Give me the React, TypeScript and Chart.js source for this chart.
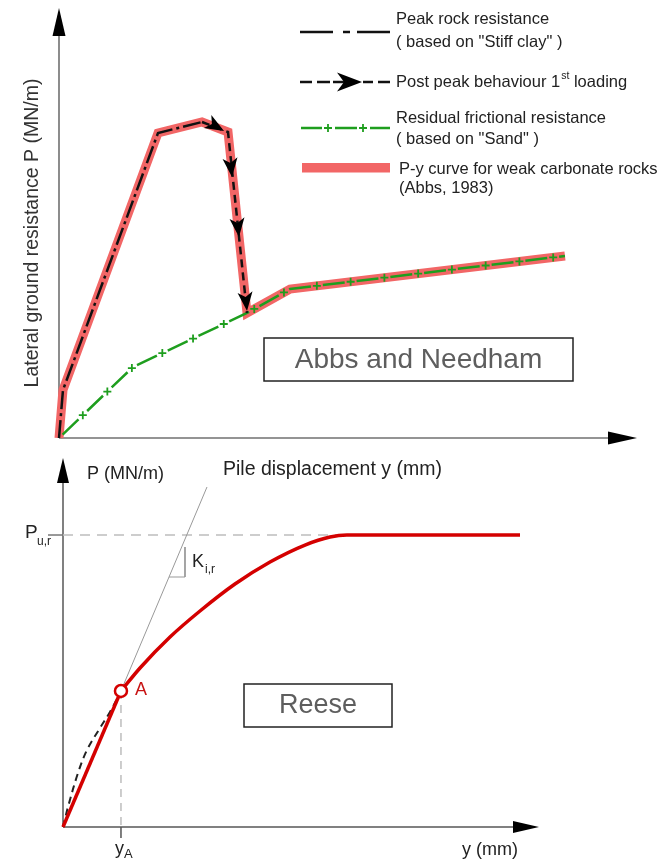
import React, { useEffect, useRef } from "react";
import { Chart, registerables } from "chart.js";

Chart.register(...registerables);

// ---------------- Top chart: Abbs and Needham (schematic units 0..100) ----------------
const pyCurveX = [0, 0.69, 17.13, 24.74, 29.24, 32.53, 39.97, 87.54];
const pyCurveY = [0, 11.16, 70.93, 73.49, 71.16, 29.07, 34.65, 42.33];
const peakRockX = [0, 0.69, 17.13, 24.74];
const peakRockY = [0, 11.16, 70.93, 73.49];
const postPeakX = [24.74, 29.24, 32.53];
const postPeakY = [73.49, 71.16, 29.07];
const residualX = [0, 12.8, 32.53, 39.97, 87.54];
const residualY = [0, 16.51, 29.07, 34.65, 42.33];
const postPeakArrowX = [28.55, 29.93, 31.14, 32.53];
const postPeakArrowY = [71.4, 60.7, 46.74, 29.53];
const postPeakArrowAngle = [30, 84, 84, 84];

const topLegendLabels = [
  "Peak rock resistance",
  '( based on "Stiff clay" )',
  "Post peak behaviour 1",
  "Residual frictional resistance",
  '( based on "Sand" )',
  "P-y curve for weak carbonate rocks",
  "(Abbs, 1983)",
];
const topYAxisTitle = "Lateral ground resistance P (MN/m)";
const topBoxTitle = "Abbs and Needham";

// ---------------- Bottom chart: Reese (schematic units 0..100) ----------------
const reeseLowerX = [0, 12.18];
const reeseLowerY = [0, 36.86];
const reeseUpperX = [12.18, 16.18, 22.48, 28.78, 36.13, 43.49, 50.84, 56.09, 59.66, 96.01];
const reeseUpperY = [36.86, 43.09, 51.49, 58.54, 65.85, 71.82, 76.42, 78.59, 79.13, 79.13];
const initialX = [0, 1.05, 3.15, 5.04, 7.77, 9.87, 12.18];
const initialY = [0, 5.42, 14.63, 20.87, 26.83, 31.17, 36.86];
const tangentX = [12.61, 30.25];
const tangentY = [38.21, 92.14];
const slopeMarkX = [25.63, 25.63, 22.27];
const slopeMarkY = [75.88, 67.75, 67.75];
const puR = 79.13;
const puREndX = 59.66;
const pointAX = 12.18;
const pointAY = 36.86;

const FONT = "'Liberation Sans', Arial, sans-serif";

const pts = (xs: number[], ys: number[]) => xs.map((x, i) => ({ x, y: ys[i] }));

function tri(ctx: any, x: number, y: number, ang: number, len: number, hw: number) {
  ctx.save();
  ctx.translate(x, y);
  ctx.rotate(ang);
  ctx.beginPath();
  ctx.moveTo(0, 0);
  ctx.lineTo(-len, -hw);
  ctx.lineTo(-len, hw);
  ctx.closePath();
  ctx.fill();
  ctx.restore();
}

function barb(ctx: any, x: number, y: number, ang: number, len: number, hw: number, notch: number) {
  ctx.save();
  ctx.translate(x, y);
  ctx.rotate(ang);
  ctx.beginPath();
  ctx.moveTo(0, 0);
  ctx.lineTo(-len, -hw);
  ctx.lineTo(-len + notch, 0);
  ctx.lineTo(-len, hw);
  ctx.closePath();
  ctx.fill();
  ctx.restore();
}

function seg(ctx: any, x1: number, y1: number, x2: number, y2: number) {
  ctx.beginPath();
  ctx.moveTo(x1, y1);
  ctx.lineTo(x2, y2);
  ctx.stroke();
}

function plus(ctx: any, x: number, y: number, s: number) {
  ctx.beginPath();
  ctx.moveTo(x - s, y);
  ctx.lineTo(x + s, y);
  ctx.moveTo(x, y - s);
  ctx.lineTo(x, y + s);
  ctx.stroke();
}

function text(ctx: any, s: string, x: number, y: number, size: number, color: string, align = "left", baseline = "middle") {
  ctx.font = `${size}px ${FONT}`;
  ctx.fillStyle = color;
  ctx.textAlign = align;
  ctx.textBaseline = baseline;
  ctx.fillText(s, x, y);
}

function plusesAlong(ctx: any, p: { x: number; y: number }[], start: number, step: number, size: number) {
  let next = start;
  let acc = 0;
  for (let i = 0; i < p.length - 1; i++) {
    const a = p[i];
    const b = p[i + 1];
    const len = Math.hypot(b.x - a.x, b.y - a.y);
    while (next <= acc + len) {
      const t = (next - acc) / len;
      plus(ctx, a.x + (b.x - a.x) * t, a.y + (b.y - a.y) * t, size);
      next += step;
    }
    acc += len;
  }
}

const topDecor = {
  id: "topDecor",
  beforeDatasetsDraw(chart: any) {
    const { ctx, scales } = chart;
    const x0 = scales.x.getPixelForValue(0);
    const y0 = scales.y.getPixelForValue(0);
    const xe = scales.x.getPixelForValue(100);
    const ye = scales.y.getPixelForValue(100);
    ctx.save();
    ctx.strokeStyle = "#707070";
    ctx.lineWidth = 1.6;
    seg(ctx, x0, y0, x0, ye + 20);
    seg(ctx, x0, y0, xe - 20, y0);
    ctx.fillStyle = "#000";
    tri(ctx, x0, ye, -Math.PI / 2, 28, 6.5);
    tri(ctx, xe, y0, 0, 29, 6.5);
    ctx.restore();
  },
  afterDatasetsDraw(chart: any) {
    const { ctx, scales } = chart;
    ctx.save();
    const meta = chart.getDatasetMeta(1);
    const p = meta.data.map((e: any) => ({ x: e.x, y: e.y }));
    ctx.strokeStyle = "#1e9e1e";
    ctx.lineWidth = 1.8;
    plusesAlong(ctx, p, 33, 34, 4);
    ctx.fillStyle = "#000";
    postPeakArrowX.forEach((vx, i) => {
      const px = scales.x.getPixelForValue(vx);
      const py = scales.y.getPixelForValue(postPeakArrowY[i]);
      barb(ctx, px, py, (postPeakArrowAngle[i] * Math.PI) / 180, 19, 7.5, 5);
    });
    ctx.restore();
  },
  afterDraw(chart: any) {
    const { ctx } = chart;
    ctx.save();
    ctx.save();
    ctx.translate(33, 233);
    ctx.rotate(-Math.PI / 2);
    text(ctx, topYAxisTitle, 0, 0, 19.5, "#333", "center");
    ctx.restore();

    ctx.strokeStyle = "#111";
    ctx.lineWidth = 2.5;
    seg(ctx, 300, 32, 333, 32);
    seg(ctx, 343, 32, 350, 32);
    seg(ctx, 357, 32, 390, 32);

    seg(ctx, 300, 82, 312, 82);
    seg(ctx, 317, 82, 330, 82);
    seg(ctx, 333, 82, 352, 82);
    ctx.fillStyle = "#000";
    barb(ctx, 362, 82, 0, 25, 9.5, 7);
    seg(ctx, 363, 82, 373, 82);
    seg(ctx, 378, 82, 390, 82);

    ctx.strokeStyle = "#1e9e1e";
    ctx.lineWidth = 2.5;
    seg(ctx, 301, 128, 322, 128);
    seg(ctx, 335, 128, 357, 128);
    seg(ctx, 370, 128, 390, 128);
    ctx.lineWidth = 1.8;
    plus(ctx, 328, 128, 4);
    plus(ctx, 363, 128, 4);

    ctx.fillStyle = "#f26666";
    ctx.fillRect(302, 163, 88, 9.5);

    const c = "#222";
    const fs = 16.5;
    text(ctx, topLegendLabels[0], 396, 19, fs, c);
    text(ctx, topLegendLabels[1], 396, 42, fs, c);
    text(ctx, topLegendLabels[2], 396, 82, fs, c);
    ctx.font = `${fs}px ${FONT}`;
    const w1 = ctx.measureText(topLegendLabels[2]).width;
    text(ctx, "st", 396 + w1 + 1, 76, 10.5, c);
    ctx.font = `10.5px ${FONT}`;
    const w2 = ctx.measureText("st").width;
    text(ctx, " loading", 396 + w1 + 1 + w2, 82, fs, c);
    text(ctx, topLegendLabels[3], 396, 118, fs, c);
    text(ctx, topLegendLabels[4], 396, 139, fs, c);
    text(ctx, topLegendLabels[5], 399, 169, fs, c);
    text(ctx, topLegendLabels[6], 399, 188, fs, c);

    ctx.fillStyle = "#fff";
    ctx.fillRect(264, 338, 309, 43);
    ctx.strokeStyle = "#222";
    ctx.lineWidth = 1.5;
    ctx.strokeRect(264, 338, 309, 43);
    text(ctx, topBoxTitle, 418.5, 360, 28, "#5e5e5e", "center");
    ctx.restore();
  },
};

const bottomDecor = {
  id: "bottomDecor",
  beforeDatasetsDraw(chart: any) {
    const { ctx, scales } = chart;
    const x0 = scales.x.getPixelForValue(0);
    const y0 = scales.y.getPixelForValue(0);
    const xe = scales.x.getPixelForValue(100);
    const ye = scales.y.getPixelForValue(100);
    ctx.save();
    ctx.strokeStyle = "#808080";
    ctx.lineWidth = 2;
    seg(ctx, x0, y0, x0, ye + 18);
    seg(ctx, x0, y0, xe - 18, y0);
    ctx.fillStyle = "#000";
    tri(ctx, x0, ye, -Math.PI / 2, 25, 6);
    tri(ctx, xe, y0, 0, 26, 6);
    ctx.restore();
  },
  afterDraw(chart: any) {
    const { ctx } = chart;
    ctx.save();
    const c = "#222";
    text(ctx, "P (MN/m)", 87, 29, 18, c);
    text(ctx, "Pile displacement y (mm)", 223, 25, 19.5, c);
    text(ctx, "P", 25, 88, 19, c);
    text(ctx, "u,r", 37, 97, 12, c);
    text(ctx, "K", 192, 117, 18, c);
    text(ctx, "i,r", 205, 125, 12, c);
    text(ctx, "A", 135, 245, 18, "#c81414");
    text(ctx, "y", 115, 409, 18, c, "left", "alphabetic");
    text(ctx, "A", 124, 413, 13, c, "left", "alphabetic");
    text(ctx, "y (mm)", 462, 410, 18, c, "left", "alphabetic");

    ctx.fillStyle = "#fff";
    ctx.fillRect(244, 239, 148, 43);
    ctx.strokeStyle = "#222";
    ctx.lineWidth = 1.5;
    ctx.strokeRect(244, 239, 148, 43);
    text(ctx, "Reese", 318, 261, 27, "#5e5e5e", "center");
    ctx.restore();
  },
};

export default function App() {
  const topRef = useRef<HTMLCanvasElement | null>(null);
  const botRef = useRef<HTMLCanvasElement | null>(null);

  useEffect(() => {
    const common = (pad: any) => ({
      responsive: false,
      animation: false,
      events: [],
      layout: { padding: pad },
      scales: {
        x: { type: "linear", display: false, min: 0, max: 100 },
        y: { type: "linear", display: false, min: 0, max: 100 },
      },
      plugins: { legend: { display: false }, tooltip: { enabled: false } },
    });

    const top = new Chart(topRef.current as any, {
      type: "scatter",
      data: {
        datasets: [
          {
            label: "P-y curve for weak carbonate rocks (Abbs, 1983)",
            data: pts(pyCurveX, pyCurveY),
            showLine: true,
            borderColor: "#f26666",
            borderWidth: 9,
            borderJoinStyle: "miter",
            pointRadius: 0,
            clip: false,
            order: 3,
          },
          {
            label: "Residual frictional resistance",
            data: pts(residualX, residualY),
            showLine: true,
            borderColor: "#1e9e1e",
            borderWidth: 2.5,
            borderDash: [22, 12],
            borderDashOffset: -5,
            pointRadius: 0,
            clip: false,
            order: 2,
          },
          {
            label: "Peak rock resistance",
            data: pts(peakRockX, peakRockY),
            showLine: true,
            borderColor: "#111",
            borderWidth: 2.5,
            borderDash: [18, 4, 3, 4],
            pointRadius: 0,
            clip: false,
            order: 1,
          },
          {
            label: "Post peak behaviour 1st loading",
            data: pts(postPeakX, postPeakY),
            showLine: true,
            borderColor: "#111",
            borderWidth: 2.5,
            borderDash: [8, 5],
            pointRadius: 0,
            clip: false,
            order: 0,
          },
        ],
      },
      options: common({ left: 59, right: 27, top: 8, bottom: 7 }) as any,
      plugins: [topDecor],
    });

    const bottom = new Chart(botRef.current as any, {
      type: "scatter",
      data: {
        datasets: [
          {
            label: "A",
            data: pts([pointAX], [pointAY]),
            pointRadius: 6,
            pointBorderWidth: 2.5,
            pointBorderColor: "#d40000",
            pointBackgroundColor: "#fff",
            clip: false,
            order: 0,
          },
          {
            label: "Reese P-y curve (lower)",
            data: pts(reeseLowerX, reeseLowerY),
            showLine: true,
            borderColor: "#d40000",
            borderWidth: 3.5,
            pointRadius: 0,
            clip: false,
            order: 1,
          },
          {
            label: "Reese P-y curve (upper)",
            data: pts(reeseUpperX, reeseUpperY),
            showLine: true,
            borderColor: "#d40000",
            borderWidth: 3.5,
            cubicInterpolationMode: "monotone",
            pointRadius: 0,
            clip: false,
            order: 1,
          },
          {
            label: "Initial",
            data: pts(initialX, initialY),
            showLine: true,
            borderColor: "#222",
            borderWidth: 2,
            borderDash: [7, 5],
            tension: 0.35,
            pointRadius: 0,
            clip: false,
            order: 2,
          },
          {
            label: "Tangent Ki,r",
            data: pts(tangentX, tangentY),
            showLine: true,
            borderColor: "#999",
            borderWidth: 1,
            pointRadius: 0,
            clip: false,
            order: 3,
          },
          {
            label: "Slope mark",
            data: pts(slopeMarkX, slopeMarkY),
            showLine: true,
            borderColor: "#999",
            borderWidth: 1,
            pointRadius: 0,
            clip: false,
            order: 3,
          },
          {
            label: "Pu,r",
            data: pts([0, puREndX], [puR, puR]),
            showLine: true,
            borderColor: "#bdbdbd",
            borderWidth: 1.5,
            borderDash: [10, 7],
            pointRadius: 0,
            clip: false,
            order: 4,
          },
          {
            label: "Pu,r tick",
            data: pts([-3.15, 0], [puR, puR]),
            showLine: true,
            borderColor: "#777",
            borderWidth: 1.5,
            pointRadius: 0,
            clip: false,
            order: 4,
          },
          {
            label: "yA",
            data: pts([pointAX, pointAX], [pointAY, 0]),
            showLine: true,
            borderColor: "#bdbdbd",
            borderWidth: 1.5,
            borderDash: [8, 6],
            pointRadius: 0,
            clip: false,
            order: 4,
          },
          {
            label: "yA tick",
            data: pts([pointAX, pointAX], [0, -2.98]),
            showLine: true,
            borderColor: "#555",
            borderWidth: 1.5,
            pointRadius: 0,
            clip: false,
            order: 4,
          },
        ],
      },
      options: common({ left: 63, right: 125, top: 13, bottom: 33 }) as any,
      plugins: [bottomDecor],
    });

    return () => {
      top.destroy();
      bottom.destroy();
    };
  }, []);

  return (
    <div style={{ position: "absolute", left: 0, top: 0, width: 664, height: 860, background: "#fff" }}>
      <canvas ref={topRef} width={664} height={445} style={{ position: "absolute", left: 0, top: 0 }} />
      <canvas ref={botRef} width={664} height={415} style={{ position: "absolute", left: 0, top: 445 }} />
    </div>
  );
}
